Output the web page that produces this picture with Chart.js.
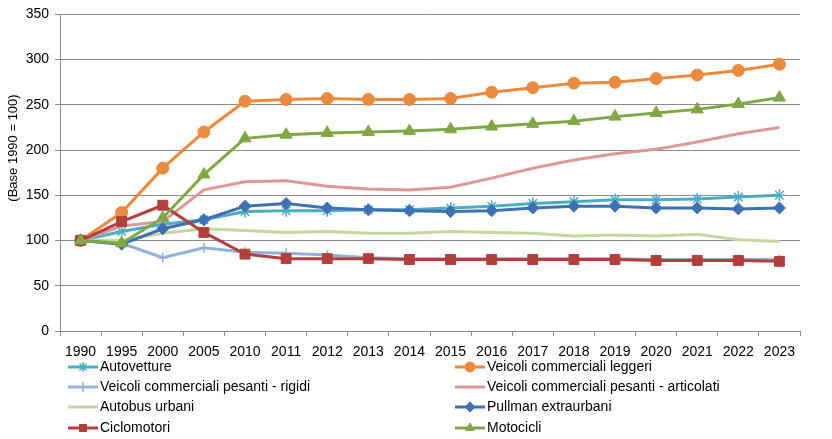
<!DOCTYPE html>
<html>
<head>
<meta charset="utf-8">
<script src="https://cdn.jsdelivr.net/npm/chart.js@4"></script>
<style>
  html, body { margin: 0; padding: 0; background: #fff; }
  #wrap { width: 832px; height: 439px; }
</style>
</head>
<body>
<div id="wrap"><canvas id="chart" width="832" height="439"></canvas></div>
<script>
const years = ["1990", "1995", "2000", "2005", "2010", "2011", "2012", "2013", "2014", "2015", "2016", "2017", "2018", "2019", "2020", "2021", "2022", "2023"];

const autovetture  = [100, 110, 118, 123, 132, 133, 133, 134, 134, 136, 138, 141, 143, 145, 145, 146, 148, 150];
const leggeri      = [100, 131, 180, 220, 254, 256, 257, 256, 256, 257, 264, 269, 274, 275, 279, 283, 288, 295];
const rigidi       = [100, 97, 81, 92, 87, 86, 84, 81, 80, 80, 80, 80, 80, 80, 79, 79, 79, 79];
const articolati   = [100, 116, 121, 156, 165, 166, 160, 157, 156, 159, 169, 180, 189, 196, 201, 209, 218, 225];
const autobus      = [100, 100, 108, 113, 111, 109, 110, 108, 108, 110, 109, 108, 105, 106, 105, 107, 101, 99];
const pullman      = [100, 96, 113, 123, 138, 141, 136, 134, 133, 132, 133, 136, 138, 138, 136, 136, 135, 136];
const ciclomotori  = [100, 121, 139, 109, 85, 80, 80, 80, 79, 79, 79, 79, 79, 79, 78, 78, 78, 77];
const motocicli    = [100, 97, 125, 173, 213, 217, 219, 220, 221, 223, 226, 229, 232, 237, 241, 245, 251, 258];

const yTicks = [0, 50, 100, 150, 200, 250, 300, 350];

const font = "'Liberation Sans', Arial, sans-serif";

function series(label, data, color, style, radius) {
    return {
        label: label,
        data: data,
        borderColor: color,
        backgroundColor: color,
        borderWidth: 3,
        pointStyle: style || false,
        pointRadius: style ? radius : 0,
        pointHoverRadius: style ? radius : 0,
        pointBorderWidth: style === "star" || style === "cross" ? 1.5 : 1,
        tension: 0
    };
}

const datasets = [
    series("Autovetture", autovetture, "#4BACC6", "star", 6),
    series("Veicoli commerciali leggeri", leggeri, "#EB8A3C", "circle", 6),
    series("Veicoli commerciali pesanti - rigidi", rigidi, "#93B0D8", "cross", 5),
    series("Veicoli commerciali pesanti - articolati", articolati, "#DC9896", null, 0),
    series("Autobus urbani", autobus, "#C3D89E", null, 0),
    series("Pullman extraurbani", pullman, "#3F70B3", "rectRot", 6),
    series("Ciclomotori", ciclomotori, "#B23F3C", "rect", 7),
    series("Motocicli", motocicli, "#7FA845", "triangle", 7)
];
// later series drawn on top, as in the original
datasets.forEach((d, i) => { d.order = datasets.length - i; });

// two-column legend + y title drawn on the canvas
const extras = {
    id: "extras",
    afterDraw(chart) {
        const ctx = chart.ctx;
        ctx.save();
        // y axis title
        ctx.translate(13, 148);
        ctx.rotate(-Math.PI / 2);
        ctx.fillStyle = "#000";
        ctx.font = "13px " + font;
        ctx.textAlign = "center";
        ctx.textBaseline = "middle";
        ctx.fillText("(Base 1990 = 100)", 0, 0);
        ctx.restore();

        const colX = [68, 455];
        const rowY = [367, 387, 407, 428];
        chart.data.datasets.forEach((ds, i) => {
            const x = colX[i % 2];
            const y = rowY[Math.floor(i / 2)];
            ctx.save();
            ctx.strokeStyle = ds.borderColor;
            ctx.fillStyle = ds.backgroundColor;
            ctx.lineWidth = 3;
            ctx.beginPath();
            ctx.moveTo(x, y);
            ctx.lineTo(x + 30, y);
            ctx.stroke();
            if (ds.pointStyle) {
                ctx.lineWidth = ds.pointBorderWidth;
                Chart.helpers.drawPoint(ctx, {
                    pointStyle: ds.pointStyle,
                    radius: Math.min(ds.pointRadius, 5),
                    borderWidth: ds.pointBorderWidth,
                    rotation: 0
                }, x + 15, y);
            }
            ctx.restore();
            ctx.save();
            ctx.font = "14px " + font;
            ctx.textBaseline = "middle";
            ctx.textAlign = "left";
            ctx.fillStyle = "#000";
            ctx.fillText(ds.label, x + 32, y);
            ctx.restore();
        });
    }
};

new Chart(document.getElementById("chart"), {
    type: "line",
    data: { labels: years, datasets: datasets },
    plugins: [extras],
    options: {
        responsive: false,
        animation: false,
        layout: { padding: { left: 0, right: 32, top: 10, bottom: 439 - 331 - 26 } },
        plugins: {
            legend: { display: false },
            tooltip: { enabled: false }
        },
        scales: {
            x: {
                offset: true,
                grid: {
                    offset: true,
                    drawOnChartArea: false,
                    drawTicks: true,
                    tickLength: 5,
                    color: "#8c8c8c"
                },
                border: { color: "#8c8c8c", width: 1 },
                ticks: {
                    color: "#000",
                    font: { family: font, size: 14 },
                    padding: 8,
                    maxRotation: 0,
                    autoSkip: false
                },
                afterFit(scale) { scale.height = 26; }
            },
            y: {
                min: 0,
                max: 350,
                afterBuildTicks(scale) { scale.ticks = yTicks.map(v => ({ value: v })); },
                grid: {
                    color: "#8c8c8c",
                    tickLength: 5
                },
                border: { color: "#8c8c8c", width: 1 },
                ticks: {
                    color: "#000",
                    font: { family: font, size: 14 },
                    padding: 6
                },
                afterFit(scale) { scale.width = 60; }
            }
        }
    }
});
</script>
</body>
</html>
